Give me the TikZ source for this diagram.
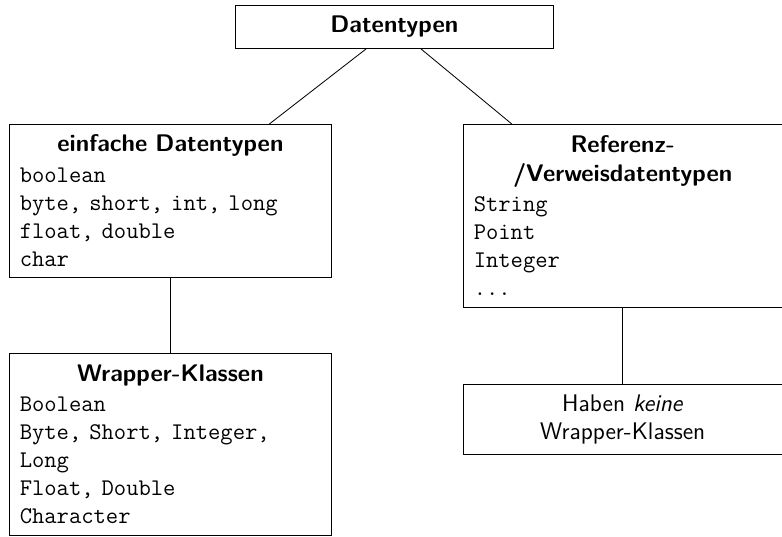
\documentclass[tikz,border=0pt]{standalone}
\usepackage{tikz}
\tikzset{
typebox/.style={draw, anchor=north west, inner sep=5pt, text width=145.6pt,
  font=\fontsize{11.6}{13.6}\selectfont\sffamily},
typebox2/.style={typebox, text width=143.9pt},
headbox/.style={typebox, text width=143.6pt, minimum height=20.8pt, align=center}
}
\newcommand{\boxhead}[1]{{\centering\bfseries #1\par}\vspace{1pt}\fontsize{11.55}{13.6}\selectfont\ttfamily}

\begin{document}
\begin{tikzpicture}[x=0.4831pt, y=-0.4831pt]
\useasboundingbox (0,0) rectangle (782,537);

\node[headbox] (dt) at (235,5) {\bfseries Datentypen};

\node[typebox, minimum height=73.9pt] (einfach) at (9,124)
  {\boxhead{einfache Datentypen}boolean\\byte, short, int, long\\float, double\\char};
\node[typebox2, minimum height=88.4pt] (referenz) at (463,124)
  {\boxhead{Referenz-\\/Verweisdatentypen}String\\Point\\Integer\\...};

\node[typebox, minimum height=87.9pt] (wrapper) at (9,353)
  {\boxhead{Wrapper-Klassen}Boolean\\Byte, Short, Integer,\\Long\\Float, Double\\Character};
\node[typebox2, minimum height=33.3pt] (keine) at (463,384)
  {\centering Haben \emph{keine}\\Wrapper-Klassen\par};

\draw (dt) -- (einfach);
\draw (dt) -- (referenz);
\draw (einfach) -- (wrapper);
\draw (referenz) -- (keine);
\end{tikzpicture}
\end{document}
